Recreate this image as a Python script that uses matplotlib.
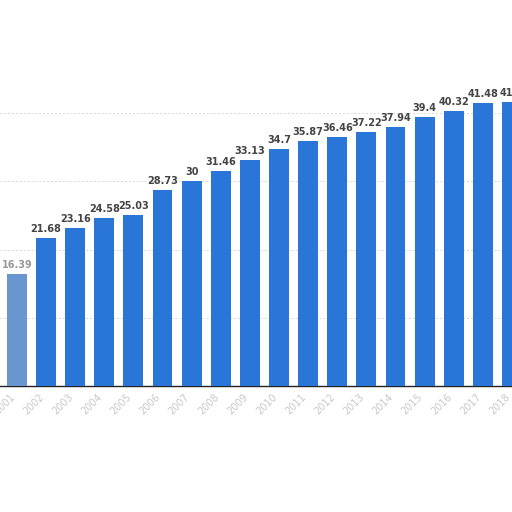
import numpy as np
import matplotlib.pyplot as plt

years = [str(y) for y in range(2001, 2019)]
values = [16.39, 21.68, 23.16, 24.58, 25.03, 28.73, 30, 31.46, 33.13, 34.7,
          35.87, 36.46, 37.22, 37.94, 39.4, 40.32, 41.48, 41.6]
labels = ['16.39', '21.68', '23.16', '24.58', '25.03', '28.73', '30', '31.46', '33.13', '34.7',
          '35.87', '36.46', '37.22', '37.94', '39.4', '40.32', '41.48', '41.6']

fig = plt.figure(figsize=(5.12, 5.12), dpi=100)
ax = fig.add_axes([0, 0.246, 1, 0.666])

x = np.arange(len(values))
colors = ['#6a96cf'] + ['#2a75d8'] * (len(values) - 1)
bars = ax.bar(x, values, width=0.68, color=colors, zorder=3)

for i, (b, t) in enumerate(zip(bars, labels)):
    ax.text(b.get_x() + b.get_width() / 2, b.get_height() + 0.6, t,
            ha='center', va='bottom', fontsize=7, fontweight='bold',
            color='#999999' if i == 0 else '#444444', zorder=4)

ax.set_xlim(-0.58, 16.96)
ax.set_ylim(0, 50)
ax.set_yticks([10, 20, 30, 40])
ax.yaxis.grid(True, linestyle=(0, (2, 2)), color='#d8d8d8', linewidth=0.7, zorder=0)
ax.tick_params(axis='y', left=False, labelleft=False)
ax.set_xticks(x)
ax.set_xticklabels(years, rotation=45, ha='right', fontsize=7, color='#c8c8c8')
ax.tick_params(axis='x', length=0, pad=4)

for s in ['top', 'left', 'right']:
    ax.spines[s].set_visible(False)
ax.spines['bottom'].set_color('#222222')
ax.spines['bottom'].set_linewidth(1.0)

fig.savefig('out.png', dpi=100)
